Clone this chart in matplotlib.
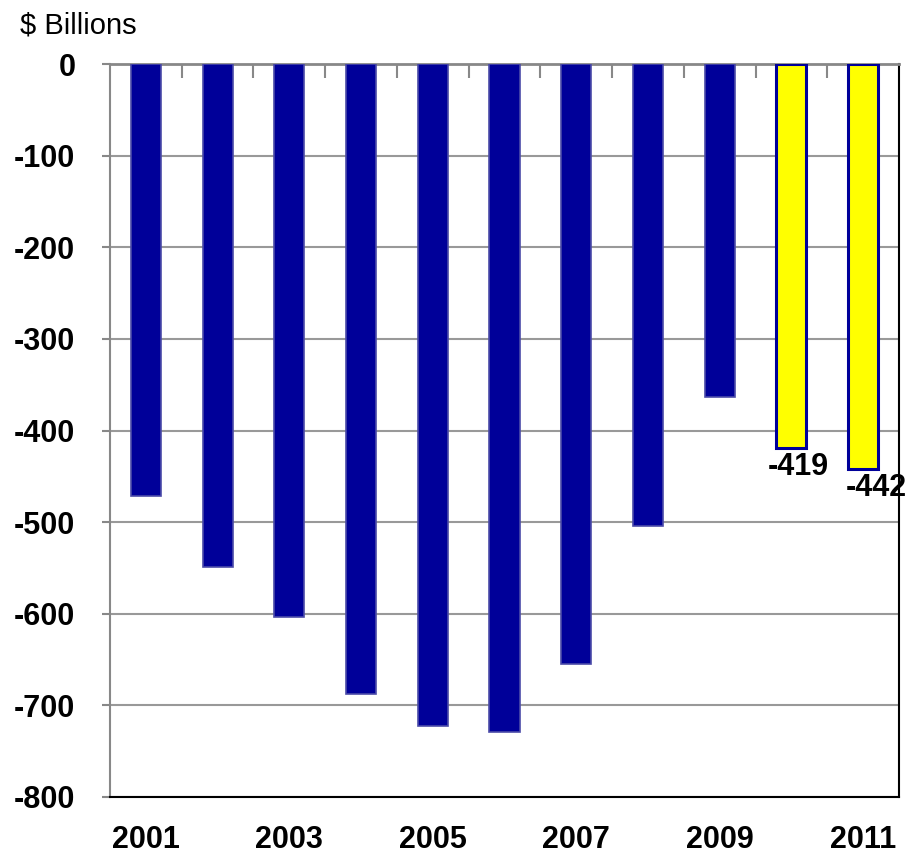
import matplotlib
matplotlib.use('Agg')
import matplotlib.pyplot as plt
import numpy as np

plt.rcParams['font.family'] = ['Liberation Sans Narrow', 'Liberation Sans', 'DejaVu Sans']

years = [2001, 2002, 2003, 2004, 2005, 2006, 2007, 2008, 2009, 2010, 2011]
deficit = [-472, -549, -604, -688, -722, -729, -655, -504, -363, -419, -442]
projected = [False] * 9 + [True, True]
labels = {2010: '-419', 2011: '-442'}
label_shift = {2010: 0.1, 2011: 0.19}

fig = plt.figure(figsize=(9.18, 8.6), dpi=100)
ax = fig.add_axes([110/918, 63/860, 789/918, 733/860])

x = np.arange(len(years))
for i, v in enumerate(deficit):
    if projected[i]:
        ax.bar(x[i], v, width=0.42, color='#ffff00', edgecolor='#000099', linewidth=2.2, zorder=3)
    else:
        ax.bar(x[i], v, width=0.42, color='#000099', edgecolor='#4b4ba8', linewidth=1.2, zorder=3)

for i, y in enumerate(years):
    if y in labels:
        ax.text(x[i] + label_shift[y], deficit[i] - 4, labels[y], ha='center', va='top',
                fontsize=22, fontweight='bold')

ax.set_xlim(-0.5, len(years) - 0.5)
ax.set_ylim(-800, 0)
ax.set_yticks(np.arange(-800, 1, 100))
ax.set_yticklabels([str(v) for v in range(-800, 1, 100)], fontsize=22, fontweight='bold')
ax.yaxis.grid(True, color='#999999', linewidth=1.5, zorder=0)

# category ticks on the zero line, year labels at the bottom
ax.xaxis.tick_top()
ax.set_xticks(np.arange(0.5, len(years) - 1, 1))
ax.set_xticklabels([])
ax.tick_params(axis='x', direction='in', length=10, color='#888888', width=1.5)
ax.tick_params(axis='y', direction='out', length=6, color='#888888', width=1.5, pad=19)
for i, y in enumerate(years):
    if y % 2 == 1:
        ax.text(x[i], -847, str(y), ha='center', va='center', fontsize=22, fontweight='bold')

ax.spines['top'].set_color('#888888')
ax.spines['top'].set_linewidth(2)
ax.spines['left'].set_color('#888888')
ax.spines['left'].set_linewidth(1.5)
ax.spines['bottom'].set_color('black')
ax.spines['bottom'].set_linewidth(1.5)
ax.spines['right'].set_color('black')
ax.spines['right'].set_linewidth(1.5)

fig.text(20/918, 1 - 25/860, '$ Billions', fontsize=21, ha='left', va='center')

fig.savefig('out.png', dpi=100)
